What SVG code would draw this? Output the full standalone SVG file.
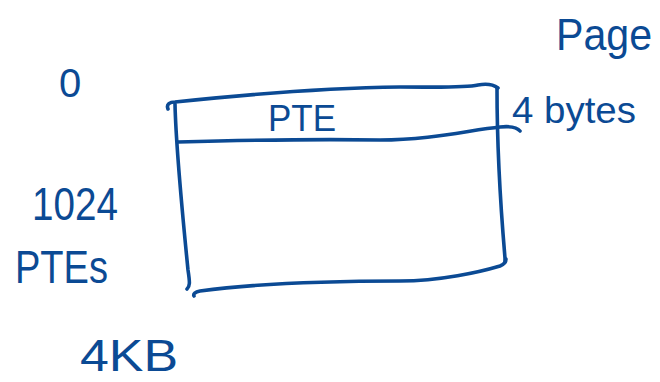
<svg xmlns="http://www.w3.org/2000/svg" width="660" height="382" viewBox="0 0 660 382">
<style>
.s{fill:none;stroke:#0b4a94;stroke-width:3.6;stroke-linecap:round;stroke-linejoin:round}
.t{fill:#0b4a94;font-family:"Liberation Sans",Arial,sans-serif}
</style>
<rect width="660" height="382" fill="#ffffff"/>
<g id="page-table">
<path class="s" d="M168,109 C166,104 170,102 175,102 C250,94 330,88 400,87 C440,87 465,88 478,85 C488,83 494,85 498,88"/>
<path class="s" d="M497,88 C497,130 500,200 505,258 L505,262"/>
<path class="s" d="M175,104 C176,150 183,220 188,270 C190,283 190,286 187,289"/>
<path class="s" d="M194,296 C193,294 195,292 200,291 C260,283 330,281 400,281 C440,281 480,272 500,266 C505,264 506,262 506,259"/>
</g>
<g id="pte-row">
<path class="s" d="M178,142 C250,140 320,139 380,140 C430,140 470,130 500,127 C510,126 517,127 520,131"/>
<text class="t" x="268" y="131" font-size="36" textLength="68" lengthAdjust="spacingAndGlyphs">PTE</text>
</g>
<g id="labels">
<text class="t" x="556" y="50" font-size="44" textLength="96" lengthAdjust="spacingAndGlyphs">Page</text>
<text class="t" x="512" y="123" font-size="36" textLength="124" lengthAdjust="spacingAndGlyphs">4 bytes</text>
<text class="t" x="59" y="97" font-size="40">0</text>
<text class="t" x="32" y="220" font-size="46" textLength="86" lengthAdjust="spacingAndGlyphs">1024</text>
<text class="t" x="15" y="283" font-size="46" textLength="93" lengthAdjust="spacingAndGlyphs">PTEs</text>
<text class="t" x="80" y="371" font-size="44" textLength="98" lengthAdjust="spacingAndGlyphs">4KB</text>
</g>
</svg>
